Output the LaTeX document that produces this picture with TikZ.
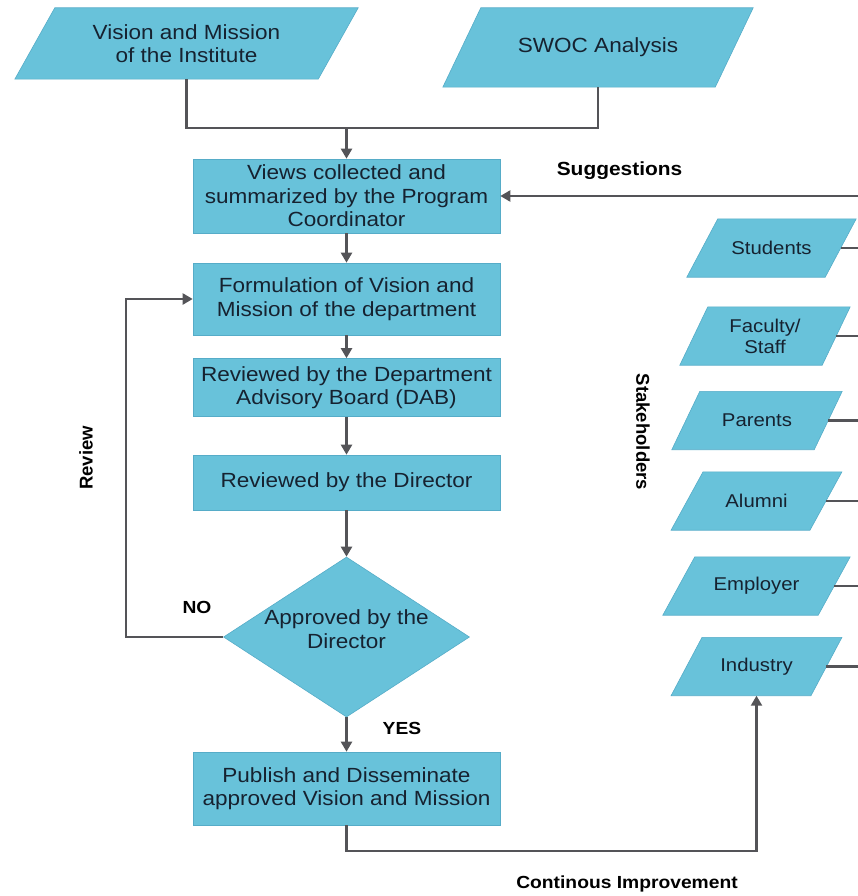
\documentclass[tikz,border=0pt]{standalone}
\usepackage{fontspec}
\setmainfont{Liberation Sans}[FakeStretch=1.1]
\newfontfamily\uprightsans{Liberation Sans}
\usetikzlibrary{arrows.meta,shapes.geometric,calc,backgrounds}

\definecolor{boxfill}{RGB}{104,194,218}
\definecolor{boxedge}{RGB}{86,172,200}
\definecolor{ink}{RGB}{22,34,48}
\definecolor{wire}{RGB}{84,84,88}

\begin{document}
\begin{tikzpicture}[x=1pt,y=-1pt,
  every node/.style={text=ink, align=center, inner sep=0},
  boxtext/.style={font=\fontsize{20.5}{23.5}\selectfont},
  stepbox/.style={boxtext, rectangle, fill=boxfill, draw=boxedge, line width=0.6pt,
    minimum width=307},
  decision/.style={boxtext, diamond, aspect=1.54, fill=boxfill, draw=boxedge,
    line width=0.6pt, minimum width=246, minimum height=160},
  % body of a parallelogram; its slanted outline is filled in behind it
  source/.style={boxtext, rectangle},
  holder/.style={rectangle, minimum height=58, font=\fontsize{18.5}{21}\selectfont},
  slantfill/.style={fill=boxfill, draw=boxedge, line width=0.6pt},
  wire/.style={draw=wire, line width=2.2pt},
  flow/.style={wire, -{Triangle[width=11pt,length=10pt]}},
  tag/.style={text=black, font=\bfseries\fontsize{17.5}{20}\selectfont},
  sidetag/.style={text=black, font=\uprightsans\bfseries\fontsize{18.5}{20}\selectfont},
]
\useasboundingbox (0,0) rectangle (857,896);

% inputs at the top
\node[source, minimum width=303, minimum height=71] (vm) at (186.5,43.5)
  {Vision and Mission\\of the Institute};
\node[source, minimum width=272, minimum height=79] (swoc) at (598,47.5)
  {SWOC Analysis};
\coordinate (join) at (346.5,128);

% main process
\node[stepbox, minimum height=74] (views) at (346.5,196)
  {Views collected and\\summarized by the Program\\Coordinator};
\node[stepbox, minimum height=72] (form) at (346.5,299)
  {Formulation of Vision and\\Mission of the department};
\node[stepbox, minimum height=58] (dab) at (346.5,387.5)
  {Reviewed by the Department\\Advisory Board (DAB)};
\node[stepbox, minimum height=55] (dir) at (346.5,482.5)
  {Reviewed by the Director};
\node[decision] (ok) at (346.5,637)
  {\raisebox{5pt}[\height][\depth]{\begin{tabular}{@{}c@{}}Approved by the\\Director\end{tabular}}};
\node[stepbox, minimum height=73] (pub) at (346.5,788.5)
  {Publish and Disseminate\\approved Vision and Mission};

% stakeholders
\node[holder, minimum width=138] (stu) at (771.5,248) {Students};
\node[holder, minimum width=142] (fac) at (765,336) {Faculty/\\Staff};
\node[holder, minimum width=142] (par) at (757,420.5) {Parents};
\node[holder, minimum width=138.5] (alu) at (756.5,501) {Alumni};
\node[holder, minimum width=155] (emp) at (756.5,586) {Employer};
\node[holder, minimum width=139.5] (ind) at (756.5,666.5) {Industry};

% slanted outlines behind the parallelogram nodes
\begin{scope}[on background layer]
  \foreach \n/\s in {vm/40, swoc/38, stu/31, fac/28, par/28, alu/32, emp/32, ind/31}
    \draw[slantfill] ([xshift=\s/2]\n.north west) -- ([xshift=\s/2]\n.north east)
      -- ([xshift=-\s/2]\n.south east) -- ([xshift=-\s/2]\n.south west) -- cycle;
\end{scope}

\coordinate (bus) at (862,196);
\coordinate (loop) at (126,637);
\coordinate (base) at (346.5,851);

% connectors
\draw[wire] (vm.south) |- (join);
\draw[wire] (swoc.south) |- (join);
\draw[flow] (join) -- (views.north);
\draw[flow] (views) -- (form);
\draw[flow] (form) -- (dab);
\draw[flow] (dab) -- (dir);
\draw[flow] (dir) -- (ok);
\draw[flow] (ok) -- (pub);
\draw[flow] (ok.west) -- (loop) |- (form.west);
\draw[flow] (pub.south) -- (base) -| (ind.south);
\draw[flow] (bus) -- (views.east);
\draw[wire] (bus) -- (bus |- ind.east);
\foreach \s in {stu,fac,par,alu,emp,ind}
  \draw[wire] (\s.east) -- (\s.east -| bus);

% labels
\node[tag, font=\bfseries\fontsize{19}{21}\selectfont] (sug) at (619.5,171) {Suggestions};
\node[tag] (no) at (197,607) {NO};
\node[tag] (yes) at (402,728) {YES};
\node[tag] (cont) at (627,884) {Continous Improvement};
\node[sidetag, rotate=90] (rev) at (86,458) {Review};
\node[sidetag, rotate=-90] (stk) at (643,432) {Stakeholders};
\end{tikzpicture}
\end{document}
